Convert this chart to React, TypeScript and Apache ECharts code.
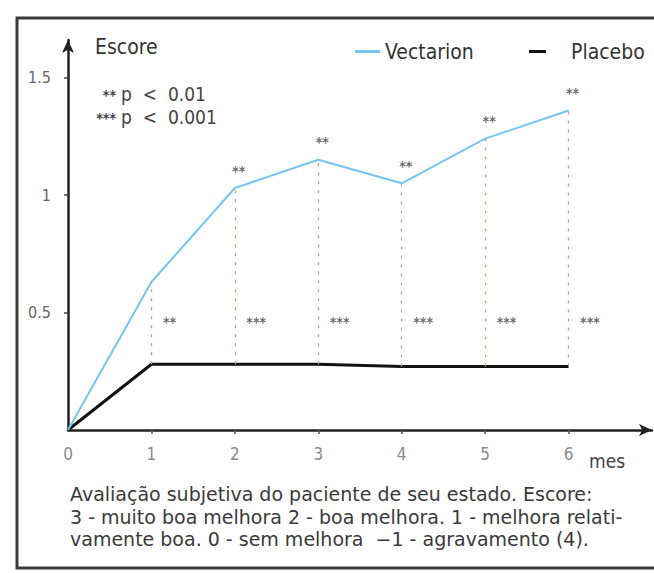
import React, { useEffect, useRef } from "react";
import * as echarts from "echarts";

const months = [0, 1, 2, 3, 4, 5, 6];
const vectarion = [0, 0.63, 1.03, 1.15, 1.05, 1.24, 1.36];
const placebo = [0, 0.28, 0.28, 0.28, 0.27, 0.27, 0.27];
const topStars = ["", "", "**", "**", "**", "**", "**"];
const bottomStars = ["", "**", "***", "***", "***", "***", "***"];
const bottomStarLevel = 0.46;
const xTickLabelValues = [0, 1, 2, 3, 4, 5, 6];
const xTickValues = [1, 2, 3, 4, 5, 6];
const yTickValues = [0.5, 1, 1.5];
const yTickLabels = ["0.5", "1", "1.5"];
const seriesNames = ["Vectarion", "Placebo"];
const keyStars = ["**", "***"];
const keyTexts = ["p  <  0.01", "p  <  0.001"];
const captionLines = [
  "Avaliação subjetiva do paciente de seu estado. Escore:",
  "3 - muito boa melhora 2 - boa melhora. 1 - melhora relati-",
  "vamente boa. 0 - sem melhora  −1 - agravamento (4).",
];

const COND = "'DejaVu Sans Condensed', 'DejaVu Sans', sans-serif";
const REG = "'DejaVu Sans', sans-serif";
const BLUE = "#74c6ee";

export default function App() {
  const ref = useRef<HTMLDivElement>(null);
  useEffect(() => {
    if (!ref.current) return;
    const chart = echarts.init(ref.current, undefined, { renderer: "svg" });
    const vData = months.map((m, i) => [m, vectarion[i]]);
    const pData = months.map((m, i) => [m, placebo[i]]);
    const legendBase = {
      top: 36,
      icon: "rect",
      itemHeight: 3,
      textStyle: { fontFamily: COND, fontSize: 21, color: "#333" },
    };
    const option: any = {
      animation: false,
      backgroundColor: "#ffffff",
      textStyle: { fontFamily: COND },
      grid: { left: 68, right: 2, top: 40, bottom: 143 },
      legend: [
        {
          ...legendBase,
          data: [seriesNames[0]],
          left: 350,
          itemWidth: 25,
          textStyle: { ...legendBase.textStyle, padding: [0, 0, 0, 0] },
        },
        {
          ...legendBase,
          data: [seriesNames[1]],
          left: 524,
          itemWidth: 17,
          textStyle: { ...legendBase.textStyle, padding: [0, 0, 0, 20] },
        },
      ],
      xAxis: {
        type: "value",
        min: 0,
        max: 7,
        interval: 1,
        splitLine: { show: false },
        axisLine: {
          show: true,
          lineStyle: { color: "#222", width: 2.5 },
          symbol: ["none", "arrow"],
          symbolSize: [9, 13],
        },
        axisTick: { show: true, customValues: xTickValues, length: 4, lineStyle: { color: "#555", width: 1.5 } },
        axisLabel: {
          customValues: xTickLabelValues,
          margin: 15,
          fontSize: 17,
          color: "#8a8a8a",
          fontFamily: COND,
        },
      },
      yAxis: {
        type: "value",
        min: 0,
        max: 1.66,
        interval: 0.5,
        splitLine: { show: false },
        axisLine: {
          show: true,
          onZero: false,
          lineStyle: { color: "#222", width: 2.5 },
          symbol: ["none", "arrow"],
          symbolSize: [9, 13],
        },
        axisTick: { show: true, customValues: yTickValues, length: 4, lineStyle: { color: "#444", width: 1.5 } },
        axisLabel: {
          customValues: yTickValues,
          margin: 17,
          fontSize: 16,
          color: "#666",
          fontFamily: COND,
          formatter: (v: number) => {
            const i = yTickValues.indexOf(v);
            return i >= 0 ? yTickLabels[i] : "";
          },
        },
      },
      series: [
        {
          name: seriesNames[1],
          type: "line",
          data: pData,
          symbol: "none",
          lineStyle: { color: "#111", width: 3 },
          itemStyle: { color: "#111" },
          z: 3,
        },
        {
          name: seriesNames[0],
          type: "line",
          data: vData,
          symbol: "none",
          lineStyle: { color: BLUE, width: 2 },
          itemStyle: { color: BLUE },
          z: 4,
          markLine: {
            silent: true,
            symbol: ["none", "none"],
            label: { show: false },
            lineStyle: { color: "#b8a090", type: [3, 6], width: 1.3 },
            data: months
              .filter((m) => m > 0)
              .map((m) => {
                const i = months.indexOf(m);
                return [{ coord: [m, placebo[i]] }, { coord: [m, vectarion[i]] }];
              }),
          },
        },
        {
          name: "topStars",
          type: "scatter",
          data: vData,
          symbol: "circle",
          symbolSize: 1,
          itemStyle: { color: "rgba(0,0,0,0)" },
          silent: true,
          label: {
            show: true,
            position: "top",
            distance: 10,
            offset: [4, 0],
            fontSize: 14,
            fontWeight: "bold",
            color: "#444",
            fontFamily: COND,
            formatter: (p: any) => topStars[p.dataIndex],
          },
        },
        {
          name: "bottomStars",
          type: "scatter",
          data: months.map((m) => [m, bottomStarLevel]),
          symbol: "circle",
          symbolSize: 1,
          itemStyle: { color: "rgba(0,0,0,0)" },
          silent: true,
          label: {
            show: true,
            position: "right",
            distance: 11,
            fontSize: 14,
            fontWeight: "bold",
            color: "#444",
            fontFamily: COND,
            formatter: (p: any) => bottomStars[p.dataIndex],
          },
        },
      ],
      graphic: [
        {
          type: "rect",
          shape: { x: 17, y: 18, width: 700, height: 550 },
          style: { fill: "none", stroke: "#3a3a3a", lineWidth: 3 },
          silent: true,
        },
        {
          type: "text",
          x: 95,
          y: 36,
          style: { text: "Escore", fontSize: 21, fill: "#333", fontFamily: COND, verticalAlign: "top" },
        },
        ...keyStars.map((s, i) => ({
          type: "text",
          x: 116,
          y: 88 + i * 23,
          style: { text: s, fontSize: 14, fontWeight: "bold", fill: "#444", fontFamily: COND, align: "right", verticalAlign: "top" },
        })),
        ...keyTexts.map((t, i) => ({
          type: "text",
          x: 121,
          y: 84 + i * 23,
          style: { text: t, fontSize: 19, fill: "#444", fontFamily: COND, align: "left", verticalAlign: "top" },
        })),
        {
          type: "text",
          x: 589,
          y: 451,
          style: { text: "mes", fontSize: 19, fill: "#444", fontFamily: COND, verticalAlign: "top" },
        },
        {
          type: "text",
          x: 70,
          y: 483,
          style: {
            text: captionLines.join("\n"),
            fontSize: 19,
            lineHeight: 22.5,
            fill: "#3a3a3a",
            fontFamily: REG,
            verticalAlign: "top",
          },
        },
      ],
    };
    chart.setOption(option);
    return () => chart.dispose();
  }, []);
  return <div ref={ref} style={{ width: 654, height: 573, position: "absolute", left: 0, top: 0 }} />;
}
